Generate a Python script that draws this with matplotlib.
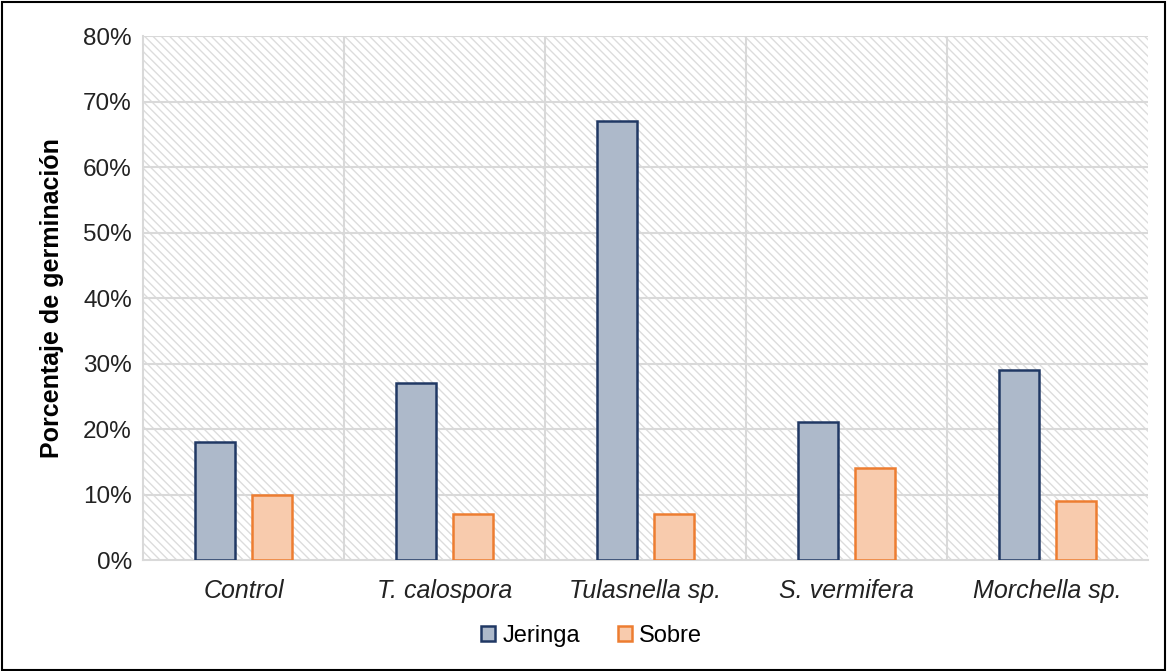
import matplotlib
matplotlib.use("Agg")
import matplotlib.pyplot as plt
from matplotlib.patches import Rectangle
import numpy as np

categories = ["Control", "T. calospora", "Tulasnella sp.", "S. vermifera", "Morchella sp."]
jeringa = [18, 27, 67, 21, 29]
sobre = [10, 7, 7, 14, 9]
yticks = [0, 10, 20, 30, 40, 50, 60, 70, 80]

plt.rcParams["font.family"] = ["Liberation Sans", "DejaVu Sans"]
plt.rcParams["hatch.linewidth"] = 1.0

fig = plt.figure(figsize=(11.67, 6.71), dpi=100)
ax = fig.add_axes([0.1225, 0.1654, 0.8612, 0.7809])

x = np.arange(len(categories))
w = 0.2
off = 0.142

# hatched plot background
ax.add_patch(Rectangle((0, 0), 1, 1, transform=ax.transAxes, facecolor="white",
                       edgecolor="#dcdcdc", linewidth=0, hatch="\\\\\\\\", zorder=0))

ax.bar(x - off, jeringa, w, color="#adb9ca", edgecolor="#203864", linewidth=1.8,
       label="Jeringa", zorder=3)
ax.bar(x + off, sobre, w, color="#f8cbad", edgecolor="#ed7d31", linewidth=1.8,
       label="Sobre", zorder=3)

ax.set_xlim(-0.5, len(categories) - 0.5)
ax.set_ylim(0, 80)
ax.set_yticks(yticks)
ax.set_yticklabels([f"{v}%" for v in yticks], fontsize=17.5, color="#222222")
ax.set_xticks(x)
ax.set_xticklabels(categories, fontsize=18, style="italic", color="#222222")
ax.tick_params(axis="y", length=0, pad=8)
ax.tick_params(axis="x", length=0, pad=14)

# gridlines
for v in yticks[1:]:
    ax.axhline(v, color="#d9d9d9", linewidth=1.5, zorder=1)
for b in np.arange(0.5, len(categories) - 0.5, 1):
    ax.axvline(b, color="#d9d9d9", linewidth=1.5, zorder=1)

for s in ["top", "right"]:
    ax.spines[s].set_visible(False)
for s in ["left", "bottom"]:
    ax.spines[s].set_color("#d9d9d9")
    ax.spines[s].set_linewidth(1.5)

ax.set_ylabel("Porcentaje de germinación", fontsize=18, fontweight="bold", labelpad=14)

fig.legend(loc="center", bbox_to_anchor=(0.507, 0.052), ncol=2, frameon=False,
           fontsize=17, handlelength=0.6, handleheight=0.6, handletextpad=0.3,
           columnspacing=1.6)

# outer border
fig.add_artist(Rectangle((0.002, 0.002), 0.996, 0.995, transform=fig.transFigure,
                         fill=False, edgecolor="black", linewidth=1.5))

fig.savefig("out.png", dpi=100)
